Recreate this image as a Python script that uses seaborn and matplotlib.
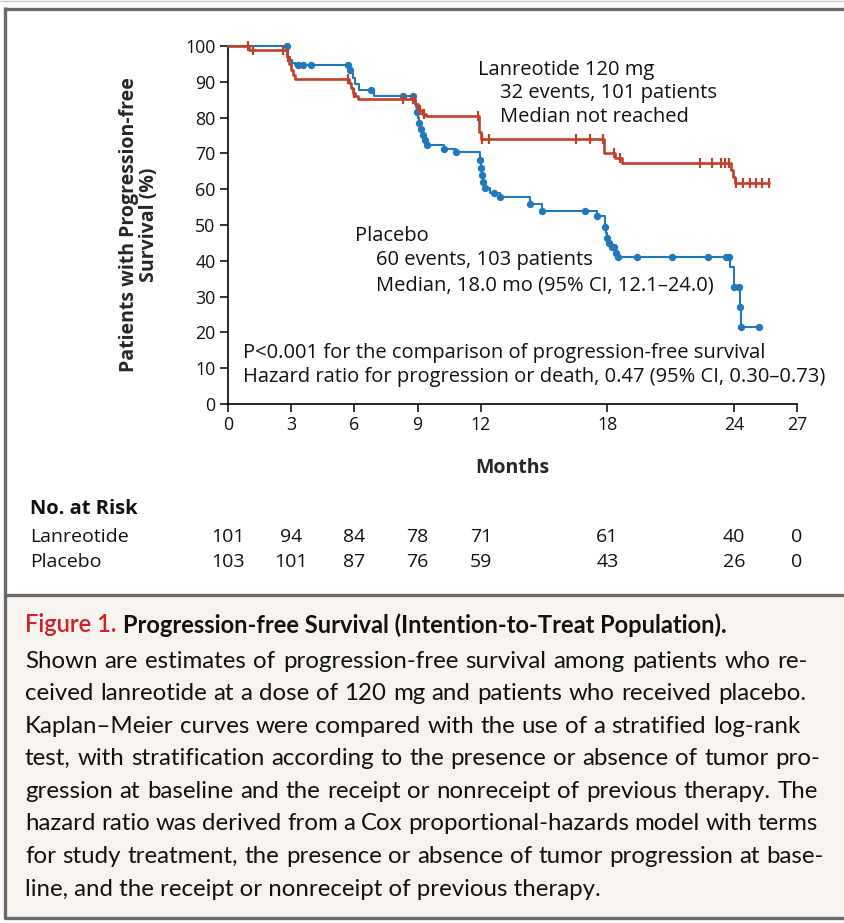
import numpy as np
import pandas as pd
import matplotlib
matplotlib.use("Agg")
import matplotlib.pyplot as plt
from matplotlib.patches import Rectangle
from matplotlib.lines import Line2D
from matplotlib.transforms import blended_transform_factory
import seaborn as sns

# ---------------- data ----------------
# Kaplan-Meier step functions: time of each step (months) and survival level (%) after it
lan_times = [0, 1.0, 2.8, 2.9, 3.0, 3.1, 3.2, 5.75, 5.85, 5.95, 6.05, 6.15,
             8.85, 9.0, 9.2, 9.4, 11.9, 12.0, 17.85, 18.35, 18.7, 23.85, 23.95, 24.05]
lan_surv = [100, 99.0, 97.0, 95.0, 93.3, 92.0, 90.9, 89.6, 88.3, 87.0, 86.0, 85.3,
            83.8, 82.2, 81.0, 80.4, 76.0, 74.0, 70.0, 68.6, 67.3, 65.5, 63.5, 61.8]
lan_end = 25.65
lan_censor = [0.95, 1.2, 2.6, 2.85, 5.7, 6.0, 8.3, 8.8, 9.1, 9.3, 11.85, 12.05, 12.4,
              16.5, 17.2, 17.8, 18.3, 18.6, 22.4, 22.95, 23.4, 23.6, 23.75, 24.1,
              24.45, 24.75, 25.05, 25.35, 25.65]

pla_times = [0, 2.85, 2.95, 3.05, 3.2, 5.75, 5.85, 5.95, 6.05, 6.2, 6.95,
             8.85, 8.9, 8.95, 9.0, 9.05, 9.15, 9.25, 9.35, 9.45, 10.25, 10.8,
             11.95, 12.0, 12.05, 12.1, 12.2, 12.45, 12.9, 14.35, 14.9, 17.5,
             17.9, 17.95, 18.0, 18.1, 18.2, 18.35, 18.5, 23.8, 24.0, 24.3, 24.35]
pla_surv = [100, 97.0, 96.0, 95.2, 94.6, 93.4, 92.4, 91.0, 89.5, 87.8, 86.1,
            84.6, 83.0, 81.5, 80.0, 78.4, 76.8, 75.2, 73.7, 72.4, 71.2, 70.3,
            68.2, 66.0, 64.0, 62.1, 60.2, 58.8, 57.8, 56.0, 54.0, 52.5,
            49.5, 47.7, 46.3, 44.9, 43.9, 42.1, 41.1, 38.4, 32.8, 27.2, 21.6]
pla_end = 25.2
pla_censor = [2.8, 3.3, 3.55, 3.95, 5.7, 5.8, 6.8, 8.3, 8.8, 8.95, 9.05, 9.15, 9.25,
              9.35, 9.45, 10.26, 10.8, 11.95, 12.0, 12.05, 12.1, 12.2, 12.6, 12.9,
              14.35, 14.9, 16.95, 17.5, 17.9, 18.0, 18.1, 18.2, 18.3, 18.4, 18.5,
              19.4, 21.05, 22.8, 23.65, 23.75, 24.0, 24.25, 24.3, 24.35, 25.2]

x_ticks = [0, 3, 6, 9, 12, 18, 24, 27]
y_ticks = [0, 10, 20, 30, 40, 50, 60, 70, 80, 90, 100]

risk_months = [0, 3, 6, 9, 12, 18, 24, 27]
risk_lan = [101, 94, 84, 78, 71, 61, 40, 0]
risk_pla = [103, 101, 87, 76, 59, 43, 26, 0]

caption_title = "Figure 1."
caption_head = "Progression-free Survival (Intention-to-Treat Population)."
caption_lines = [
    "Shown are estimates of progression-free survival among patients who re-",
    "ceived lanreotide at a dose of 120 mg and patients who received placebo.",
    "Kaplan\u2013Meier curves were compared with the use of a stratified log-rank",
    "test, with stratification according to the presence or absence of tumor pro-",
    "gression at baseline and the receipt or nonreceipt of previous therapy. The",
    "hazard ratio was derived from a Cox proportional-hazards model with terms",
    "for study treatment, the presence or absence of tumor progression at base-",
    "line, and the receipt or nonreceipt of previous therapy.",
]
caption_right = [808, 806, 800, 820, 818, 818, 824]

# ---------------- style ----------------
RED = "#C0402A"
BLUE = "#2079BD"
BORDER = "#6A6A6A"
PAPER = "#F7F4EF"
FIG_RED = "#CC2229"

sns.set_style("ticks")
CHART_FONT = ["Open Sans", "DejaVu Sans"]
CAP_FONT = ["Lato", "DejaVu Sans"]
plt.rcParams["font.family"] = CHART_FONT
plt.rcParams["axes.linewidth"] = 1.2
plt.rcParams["text.color"] = "#111111"

W, H = 845, 923
fig = plt.figure(figsize=(W / 100, H / 100), dpi=100)
fig.patch.set_facecolor("white")


def fx(px):
    return px / W


def fy(py):
    return 1 - py / H


# panel frame and caption box
fig.add_artist(Rectangle((fx(6), fy(917)), 1 - fx(6), fy(595) - fy(917),
                         transform=fig.transFigure, facecolor=PAPER,
                         edgecolor="none", zorder=0))
fig.add_artist(Line2D([0, 1], [fy(0.5), fy(0.5)], color="#CCCCCC", lw=1.0,
                      transform=fig.transFigure))
for y in (8.5, 594.5, 917.5):
    fig.add_artist(Line2D([fx(4), 1], [fy(y), fy(y)], color=BORDER, lw=2.4,
                          transform=fig.transFigure, solid_capstyle="butt"))
fig.add_artist(Line2D([fx(5), fx(5)], [fy(7), fy(919)], color=BORDER, lw=2.4,
                      transform=fig.transFigure, solid_capstyle="butt"))

ax = fig.add_axes([fx(228), fy(404), fx(797) - fx(228), fy(46) - fy(404)])
ax.set_facecolor("none")


def km_frame(times, surv, end):
    return pd.DataFrame({"month": list(times) + [end],
                         "pfs": list(surv) + [surv[-1]]})


def level_at(times, surv, t):
    idx = np.searchsorted(np.asarray(times), np.asarray(t), side="right") - 1
    return np.asarray(surv)[idx]


lan_df = km_frame(lan_times, lan_surv, lan_end)
pla_df = km_frame(pla_times, pla_surv, pla_end)

sns.lineplot(data=pla_df, x="month", y="pfs", ax=ax, color=BLUE, lw=1.5,
             drawstyle="steps-post", estimator=None, sort=False, clip_on=False,
             zorder=3)
sns.lineplot(data=lan_df, x="month", y="pfs", ax=ax, color=RED, lw=1.9,
             drawstyle="steps-post", estimator=None, sort=False, clip_on=False,
             zorder=4)

sns.scatterplot(x=pla_censor, y=level_at(pla_times, pla_surv, pla_censor), ax=ax,
                color=BLUE, s=28, linewidth=0, zorder=3.5, clip_on=False)
ax.plot(lan_censor, level_at(lan_times, lan_surv, lan_censor), ls="none",
        marker="|", ms=7, mew=1.6, color=RED, zorder=4.5, clip_on=False)

ax.set_xlim(0, 27)
ax.set_ylim(0, 100)
ax.set_xticks(x_ticks)
ax.set_yticks(y_ticks)
ax.tick_params(axis="both", direction="out", length=6, width=1.1, color="black",
               labelsize=12.8, pad=3, labelcolor="#111111")
sns.despine(ax=ax)
for s in ("left", "bottom"):
    ax.spines[s].set_color("black")

ax.set_ylabel("Patients with Progression-free\nSurvival (%)", fontsize=14,
              fontweight="bold", linespacing=1.0)
ax.yaxis.set_label_coords((159 - 228) / 569, 0.5)
ax.set_xlabel("Months", fontsize=14, fontweight="bold")
ax.xaxis.set_label_coords(0.5, (404 - 458) / 358)
ax.xaxis.label.set_va("top")

ann = dict(fontsize=14.5, ha="left", va="center", color="#111111")
ax.text(11.87, 93.3, "Lanreotide 120 mg", **ann)
ax.text(12.9, 86.9, "32 events, 101 patients", **ann)
ax.text(12.9, 80.2, "Median not reached", **ann)
ax.text(6.03, 46.9, "Placebo", **ann)
ax.text(7.02, 40.2, "60 events, 103 patients", **ann)
ax.text(7.02, 33.2, "Median, 18.0 mo (95% CI, 12.1\u201324.0)", **ann)
ax.text(0.71, 14.2, "P<0.001 for the comparison of progression-free survival", **ann)
ax.text(0.71, 7.5, "Hazard ratio for progression or death, 0.47 (95% CI, 0.30\u20130.73)", **ann)

# number-at-risk table under the axis
tr = blended_transform_factory(ax.transData, fig.transFigure)
fig.text(fx(30), fy(509), "No. at Risk", fontsize=14.5, fontweight="bold", va="center")
fig.text(fx(30), fy(537), "Lanreotide", fontsize=14, va="center")
fig.text(fx(30), fy(562), "Placebo", fontsize=14, va="center")
for m, a, b in zip(risk_months, risk_lan, risk_pla):
    ax.text(m, fy(537), str(a), transform=tr, ha="center", va="center", fontsize=14)
    ax.text(m, fy(562), str(b), transform=tr, ha="center", va="center", fontsize=14)

# caption, justified line by line
fig.canvas.draw()
renderer = fig.canvas.get_renderer()
t1 = fig.text(fx(25), fy(625), caption_title, color=FIG_RED, fontsize=17,
              fontweight="semibold", family=CAP_FONT, va="center")
w1 = t1.get_window_extent(renderer).width
fig.text(fx(25 + w1 + 7), fy(625), caption_head, fontsize=17, fontweight="bold",
         family=CAP_FONT, va="center")

cap_size = 17.3
line_gap = 32.6
for i, line in enumerate(caption_lines):
    ypx = 661 + i * line_gap
    if i == len(caption_lines) - 1:
        fig.text(fx(25), fy(ypx), line, fontsize=cap_size, family=CAP_FONT, va="center")
        continue
    words = line.split(" ")
    arts = [fig.text(0, fy(ypx), w, fontsize=cap_size, family=CAP_FONT, va="center")
            for w in words]
    widths = [a.get_window_extent(renderer).width for a in arts]
    gap = max(4.0, (caption_right[i] - 25 - sum(widths)) / (len(words) - 1))
    xpos = 25
    for a, w in zip(arts, widths):
        a.set_x(fx(xpos))
        xpos += w + gap

fig.savefig("out.png", dpi=100, facecolor="white")
